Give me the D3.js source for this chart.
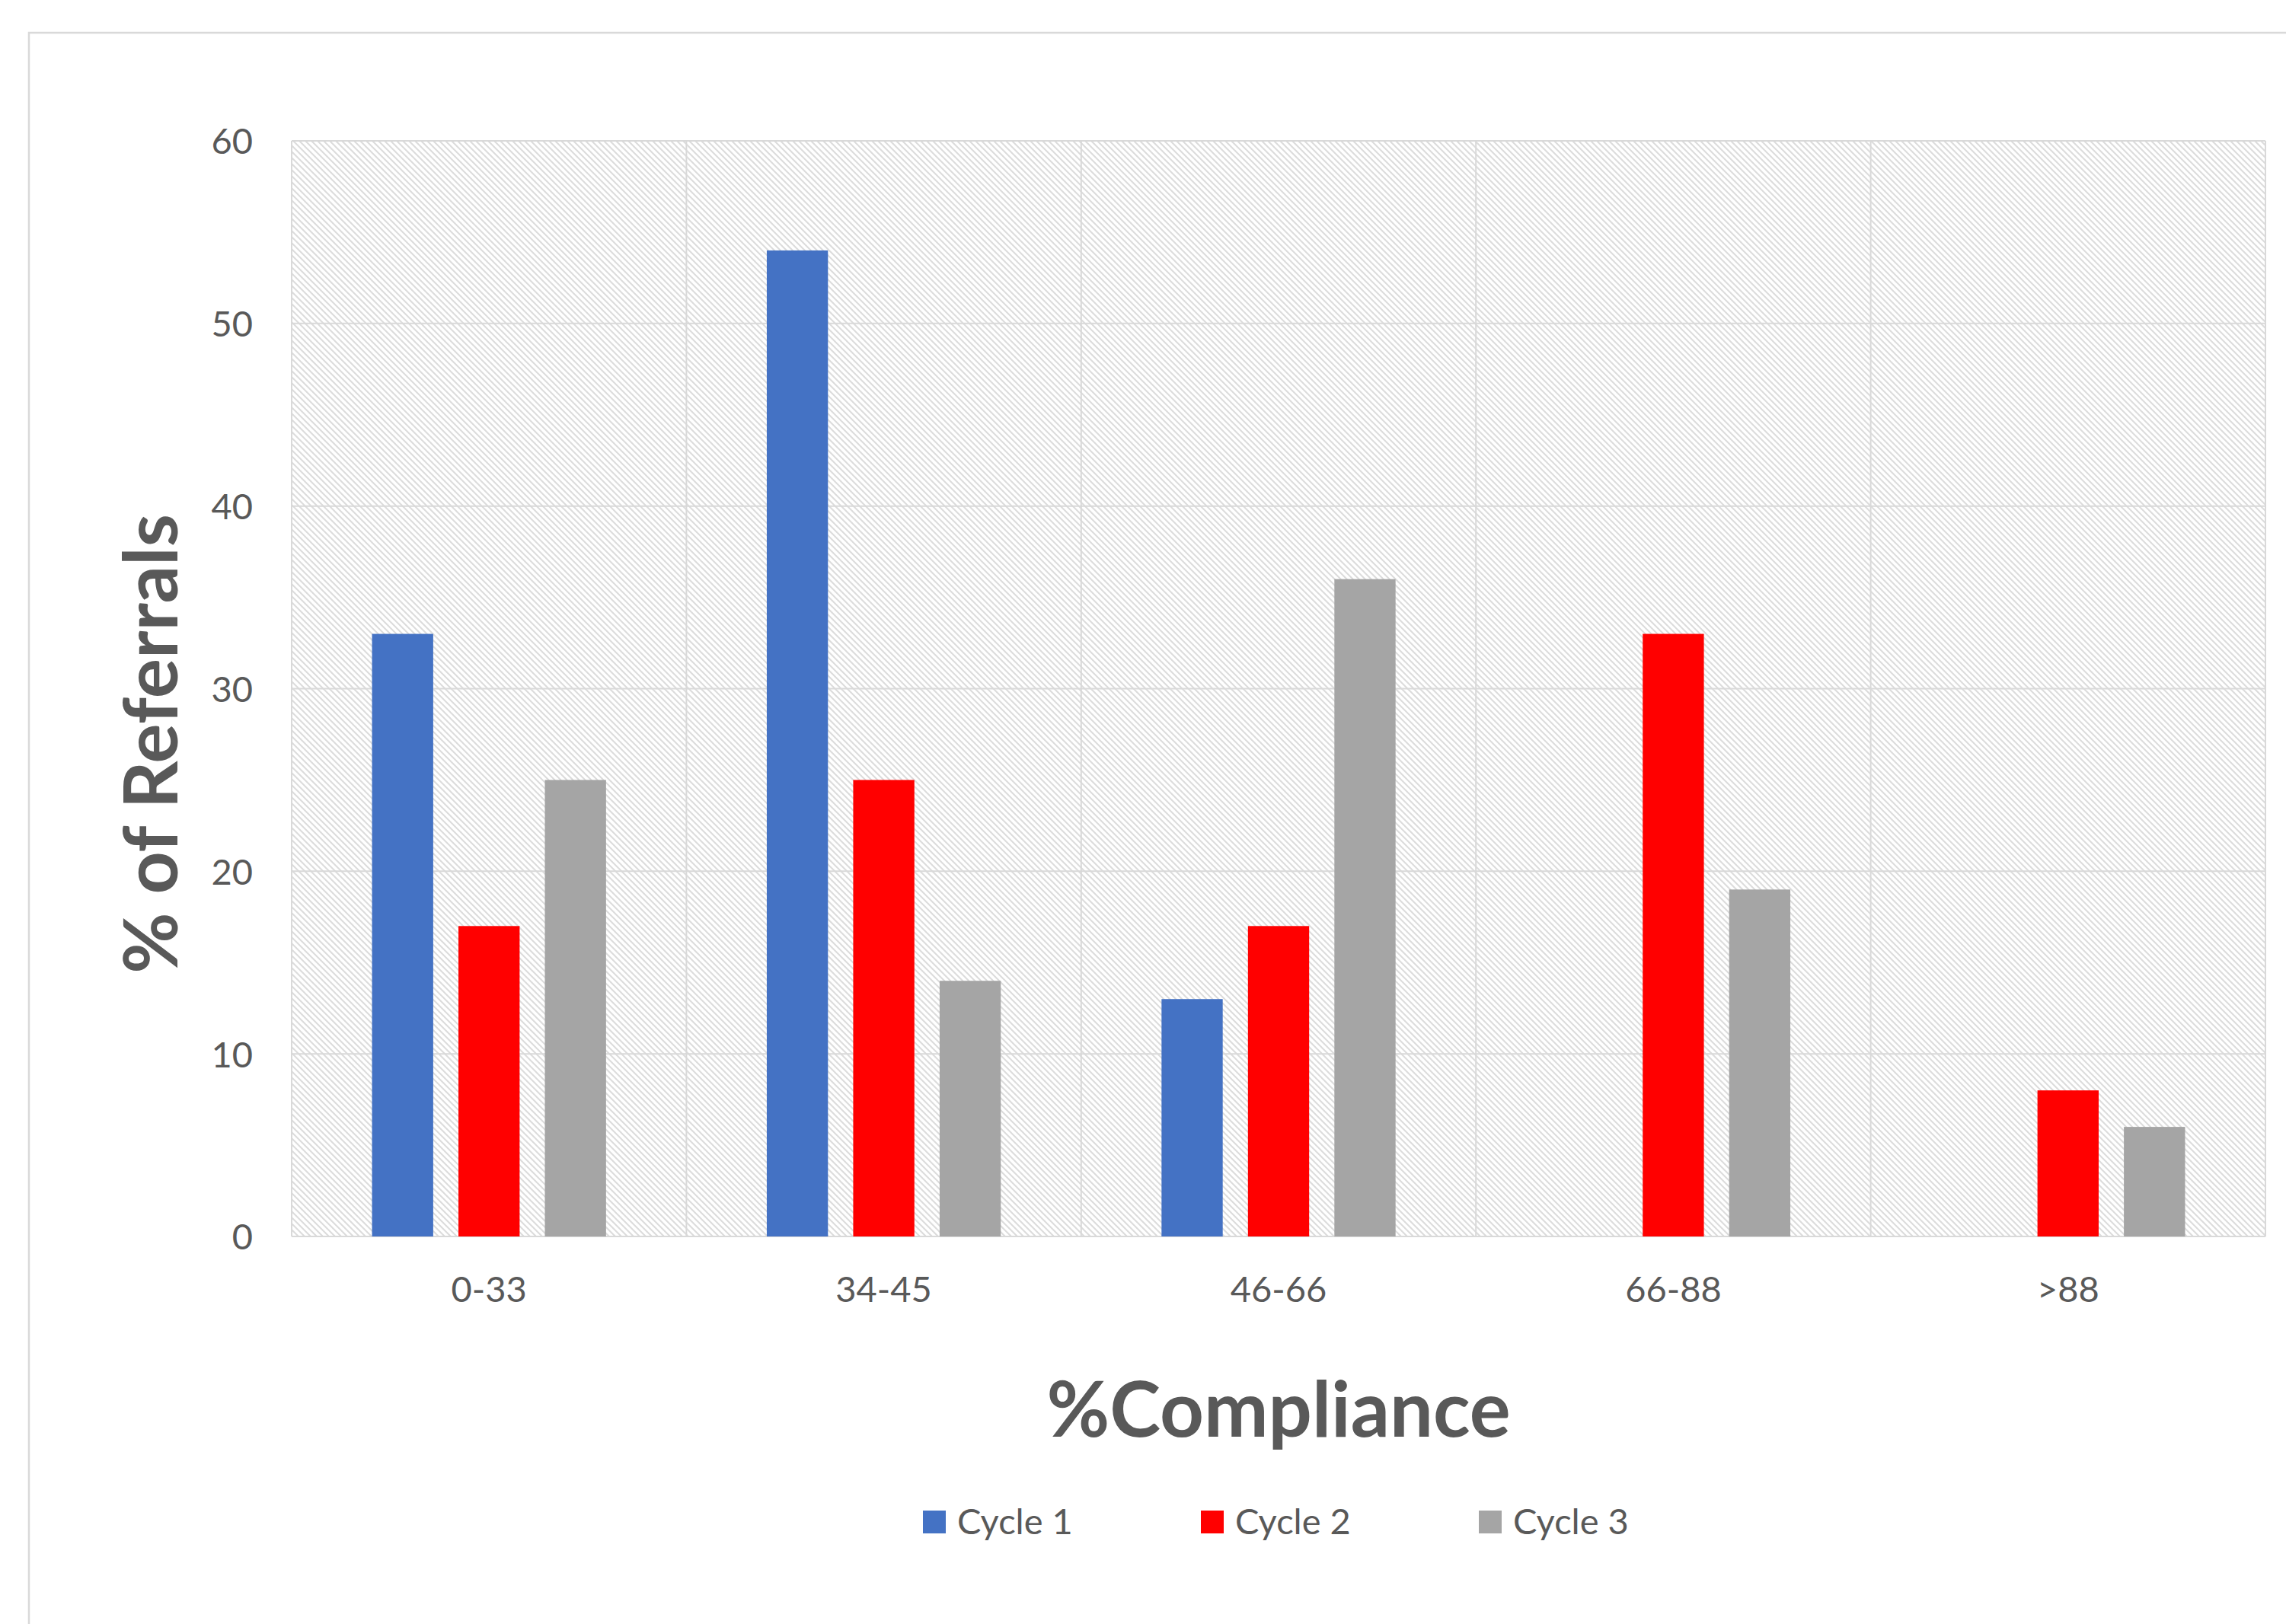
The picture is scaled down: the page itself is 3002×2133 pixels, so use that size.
<!DOCTYPE html>
<html>
<head>
<meta charset="utf-8">
<script src="https://cdn.jsdelivr.net/npm/d3@7"></script>
<style>
  html, body { margin: 0; padding: 0; background: #ffffff; }
  svg { display: block; }
  text { font-family: Lato, "Open Sans", sans-serif; fill: #595959; }
</style>
</head>
<body>
<svg id="chart" width="3002" height="2133"></svg>
<script>
// Compliance bands and share of referrals per audit cycle
const categories = ["0-33", "34-45", "46-66", "66-88", ">88"];
const seriesNames = ["Cycle 1", "Cycle 2", "Cycle 3"];
const cycle1 = [33, 54, 13, 0, 0];
const cycle2 = [17, 25, 17, 33, 8];
const cycle3 = [25, 14, 36, 19, 6];
const yTicks = [0, 10, 20, 30, 40, 50, 60];
const seriesColors = ["#4472C4", "#FF0000", "#A5A5A5"];

const seriesValues = [cycle1, cycle2, cycle3];

const W = 3002, H = 2133;
const plot = { left: 383, top: 185, right: 2975, bottom: 1624 };

const svg = d3.select("#chart");

// Hatched background fill
const defs = svg.append("defs");
const pat = defs.append("pattern")
  .attr("id", "hatch")
  .attr("patternUnits", "userSpaceOnUse")
  .attr("width", 8).attr("height", 8);
pat.append("rect").attr("width", 8).attr("height", 8).attr("fill", "#ffffff");
pat.append("path")
  .attr("d", "M0,0 L8,8 M-4,4 L4,12 M4,-4 L12,4")
  .attr("stroke", "#dcdcdc")
  .attr("stroke-width", 2)
  .attr("fill", "none");

// Chart frame
svg.append("rect")
  .attr("x", 38).attr("y", 43)
  .attr("width", W + 20).attr("height", H + 20)
  .attr("fill", "#ffffff")
  .attr("stroke", "#d9d9d9")
  .attr("stroke-width", 2.5);

const x = d3.scaleBand()
  .domain(categories)
  .range([plot.left, plot.right])
  .padding(0);

const xInner = d3.scaleBand()
  .domain(seriesNames)
  .range([0, x.bandwidth()])
  .paddingInner(0.292)
  .paddingOuter(0.93);

const y = d3.scaleLinear()
  .domain([0, 60])
  .range([plot.bottom, plot.top]);

// Plot area
svg.append("rect")
  .attr("x", plot.left).attr("y", plot.top)
  .attr("width", plot.right - plot.left)
  .attr("height", plot.bottom - plot.top)
  .attr("fill", "url(#hatch)");

const grid = svg.append("g").attr("stroke", "#d9d9d9").attr("stroke-width", 2);
grid.selectAll("line.h")
  .data(yTicks)
  .join("line")
  .attr("class", "h")
  .attr("x1", plot.left).attr("x2", plot.right)
  .attr("y1", d => y(d)).attr("y2", d => y(d));
grid.selectAll("line.v")
  .data(categories.map(c => x(c)).concat([plot.right]))
  .join("line")
  .attr("class", "v")
  .attr("x1", d => d).attr("x2", d => d)
  .attr("y1", plot.top).attr("y2", plot.bottom);

// Bars
const rows = [];
categories.forEach((c, i) => {
  seriesNames.forEach((s, j) => {
    rows.push({ category: c, series: s, value: seriesValues[j][i], color: seriesColors[j] });
  });
});

svg.append("g")
  .selectAll("rect")
  .data(rows.filter(d => d.value > 0))
  .join("rect")
  .attr("x", d => x(d.category) + xInner(d.series))
  .attr("width", xInner.bandwidth())
  .attr("y", d => y(d.value))
  .attr("height", d => y(0) - y(d.value))
  .attr("fill", d => d.color);

// Axes
const yAxis = svg.append("g")
  .attr("transform", `translate(${plot.left},0)`)
  .call(d3.axisLeft(y).tickValues(yTicks).tickSize(0).tickPadding(51));
yAxis.select(".domain").remove();
yAxis.selectAll("text")
  .attr("font-size", 47)
  .attr("font-family", "Lato, 'Open Sans', sans-serif")
  .attr("fill", "#595959")
  .attr("dy", "0.36em");

const xAxis = svg.append("g")
  .attr("transform", `translate(0,${plot.bottom})`)
  .call(d3.axisBottom(x).tickSize(0).tickPadding(53));
xAxis.select(".domain").remove();
xAxis.selectAll("text")
  .attr("font-size", 47)
  .attr("font-family", "Lato, 'Open Sans', sans-serif")
  .attr("fill", "#595959");

// Axis titles
svg.append("text")
  .attr("transform", "translate(233,977) rotate(-90)")
  .attr("text-anchor", "middle")
  .attr("font-size", 98)
  .attr("font-weight", "bold")
  .text("% of Referrals");

svg.append("text")
  .attr("x", (plot.left + plot.right) / 2)
  .attr("y", 1887)
  .attr("text-anchor", "middle")
  .attr("font-size", 101)
  .attr("font-weight", "bold")
  .text("%Compliance");

// Legend
const legend = svg.append("g").attr("transform", "translate(1212,1984)");
const item = legend.selectAll("g")
  .data(seriesNames)
  .join("g")
  .attr("transform", (d, i) => `translate(${i * 365},0)`);
item.append("rect")
  .attr("width", 30).attr("height", 30)
  .attr("fill", (d, i) => seriesColors[i]);
item.append("text")
  .attr("x", 45).attr("y", 31)
  .attr("font-size", 47)
  .text(d => d);
</script>
</body>
</html>
